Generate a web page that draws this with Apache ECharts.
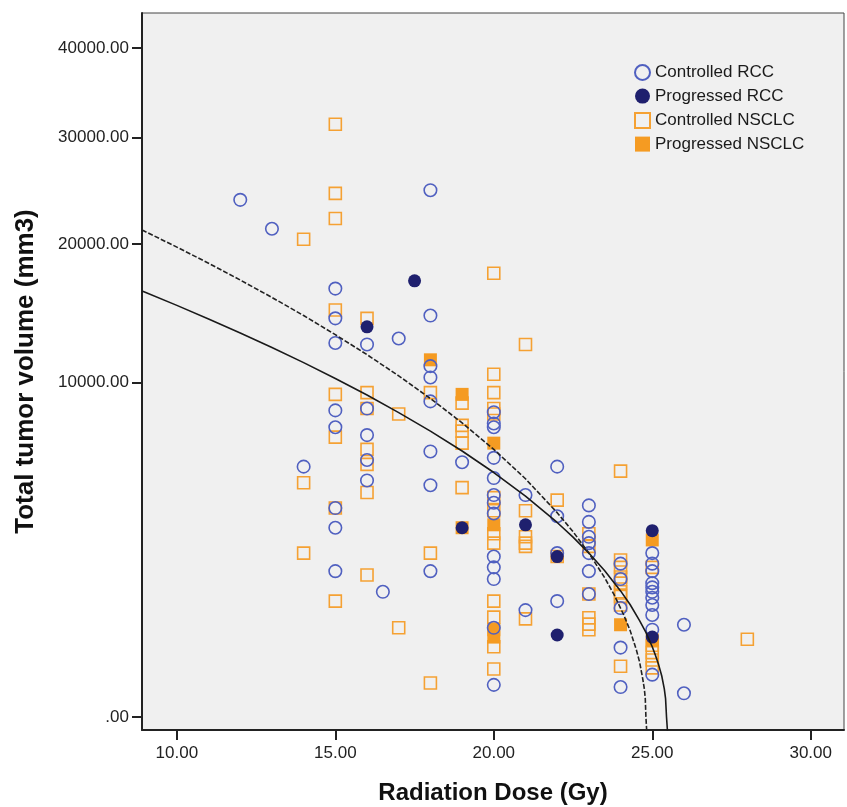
<!DOCTYPE html>
<html>
<head>
<meta charset="utf-8">
<title>Tumor volume vs radiation dose</title>
<script src="https://cdn.jsdelivr.net/npm/echarts@6/dist/echarts.min.js"></script>
<style>
  html, body { margin: 0; padding: 0; background: #fff; }
  #doseChart { width: 847px; height: 807px; }
</style>
</head>
<body>
<div id="doseChart"></div>
<script>
// points: [dose (Gy), total tumor volume (mm3)]
var controlledRCC = [
    [12, 23900], [13, 21300], [14, 5600],
    [15, 16400], [15, 14200], [15, 12500], [15, 8400], [15, 7500], [15, 3900], [15, 3200], [15, 1900],
    [16, 12400], [16, 8500], [16, 7100], [16, 5900], [16, 5000],
    [16.5, 1400], [17, 12800],
    [18, 24800], [18, 14400], [18, 11000], [18, 10300], [18, 8900], [18, 6300], [18, 4800], [18, 1900],
    [19, 5800],
    [20, 8300], [20, 7700], [20, 7500], [20, 6000], [20, 5100], [20, 4400], [20, 4100], [20, 3700],
    [20, 2300], [20, 2000], [20, 1700], [20, 710], [20, 92],
    [21, 4400], [21, 1020],
    [22, 5600], [22, 3600], [22, 2400], [22, 1200],
    [23, 4000], [23, 3400], [23, 2900], [23, 2700], [23, 2400], [23, 1900], [23, 1350],
    [24, 2100], [24, 1700], [24, 1060], [24, 430], [24, 80],
    [25, 2400], [25, 2100], [25, 1900], [25, 1600], [25, 1500], [25, 1400], [25, 1270], [25, 1120],
    [25, 930], [25, 680], [25, 160],
    [26, 760], [26, 50]
];
var progressedRCC = [
    [16, 13600], [17.5, 17000], [19, 3200], [21, 3300], [22, 2300], [22, 600], [25, 3100], [25, 570]
];
var controlledNSCLC = [
    [14, 20400], [14, 4900], [14, 2400],
    [15, 31400], [15, 24500], [15, 22200], [15, 14800], [15, 9300], [15, 7000], [15, 3900], [15, 1200],
    [16, 14200], [16, 9400], [16, 8500], [16, 6400], [16, 5700], [16, 4500], [16, 1800],
    [17, 8200], [17, 710],
    [18, 9400], [18, 2400], [18, 103],
    [19, 8800], [19, 7600], [19, 7300], [19, 6700], [19, 4700],
    [20, 17600], [20, 10500], [20, 9400], [20, 8500], [20, 8200], [20, 4300], [20, 3800], [20, 3000],
    [20, 2700], [20, 1200], [20, 890], [20, 440], [20, 206],
    [21, 12400], [21, 3800], [21, 2900], [21, 2700], [21, 2600], [21, 860],
    [22, 4200], [22, 2300],
    [23, 3000], [23, 2600], [23, 1350], [23, 880], [23, 770], [23, 680],
    [24, 5400], [24, 2200], [24, 2000], [24, 1750], [24, 1600], [24, 1400], [24, 1300], [24, 1120], [24, 230],
    [25, 2000], [25, 460], [25, 370], [25, 290], [25, 215],
    [28, 540]
];
var progressedNSCLC = [
    [18, 11400], [19, 9300], [19, 3200], [20, 6700], [20, 3300], [20, 680], [20, 570],
    [24, 760], [25, 2800], [25, 530]
];

// fitted curves
var solidDose = [8.9, 9, 10, 11, 12, 13, 14, 15, 16, 17, 18, 19, 20, 21, 22, 22.5, 23, 23.5, 24, 24.3, 24.6, 24.8, 25, 25.1, 25.2, 25.3, 25.38, 25.42, 25.45, 25.5];
var solidVol = [16220, 16120, 15140, 14160, 13180, 12200, 11220, 10240, 9260, 8280, 7300, 6320, 5340, 4360, 3380, 2890, 2400, 1910, 1420, 1130, 830, 640, 440, 340, 245, 150, 70, 30, 0, -50];
var dashedDose = [8.9, 9, 10, 11, 12, 13, 14, 15, 16, 17, 18, 19, 20, 21, 22, 22.5, 23, 23.5, 23.8, 24.1, 24.3, 24.5, 24.6, 24.7, 24.75, 24.78, 24.8, 24.85];
var dashedVol = [21200, 21060, 19730, 18400, 17060, 15730, 14400, 13060, 11730, 10400, 9060, 7730, 6400, 5070, 3730, 3070, 2400, 1730, 1330, 930, 670, 400, 270, 130, 70, 30, 0, -70];

var xTicks = [10, 15, 20, 25, 30];
var yTicks = [0, 10000, 20000, 30000, 40000];

var FONT = '"Liberation Sans", Arial, sans-serif';

// the y axis is on a square-root scale
function sq(v) {
    return v < 0 ? -Math.sqrt(-v) : Math.sqrt(v);
}
function toPoints(list) {
    return list.map(function (p) { return [p[0], sq(p[1])]; });
}
function toCurve(xs, ys) {
    return xs.map(function (x, i) { return [x, sq(ys[i])]; });
}

var doseChart = echarts.init(document.getElementById('doseChart'), null, { renderer: 'canvas' });

var legendText = { fontFamily: FONT, fontSize: 17, color: '#1a1a1a', lineHeight: 15 };

var option = {
    animation: false,
    backgroundColor: '#fff',
    grid: {
        left: 142, right: 3, top: 13, bottom: 77,
        outerBoundsMode: 'none',
        show: true,
        backgroundColor: '#f0f0f0',
        borderColor: '#444',
        borderWidth: 1
    },
    legend: [{
        orient: 'vertical',
        left: 634, top: 64,
        padding: 0,
        itemWidth: 15, itemHeight: 15, itemGap: 6.6,
        textStyle: legendText,
        data: ['Controlled RCC', 'Progressed RCC']
    }, {
        orient: 'vertical',
        left: 634, top: 112,
        padding: 0,
        itemWidth: 15, itemHeight: 15, itemGap: 6.6,
        textStyle: legendText,
        data: ['Controlled NSCLC', 'Progressed NSCLC']
    }],
    xAxis: {
        type: 'value',
        min: 8.9, max: 31.05,
        name: 'Radiation Dose (Gy)',
        nameLocation: 'middle',
        nameGap: 51,
        nameTextStyle: { fontFamily: FONT, fontSize: 24, fontWeight: 'bold', color: '#111' },
        axisLine: { show: true, onZero: false, lineStyle: { color: '#222', width: 2 } },
        axisTick: { show: true, length: 10, customValues: xTicks, lineStyle: { color: '#222', width: 2 } },
        axisLabel: {
            customValues: xTicks,
            margin: 15,
            fontFamily: FONT, fontSize: 17, color: '#222',
            formatter: function (v) { return v.toFixed(2); }
        },
        splitLine: { show: false }
    },
    yAxis: {
        type: 'value',
        min: -3.9, max: 210.45,
        name: 'Total tumor volume (mm3)',
        nameLocation: 'middle',
        nameRotate: 90,
        nameGap: 103,
        nameTextStyle: { fontFamily: FONT, fontSize: 26, fontWeight: 'bold', color: '#111' },
        axisLine: { show: true, onZero: false, lineStyle: { color: '#222', width: 2 } },
        axisTick: { show: true, length: 10, customValues: yTicks.map(Math.sqrt), lineStyle: { color: '#222', width: 2 } },
        axisLabel: {
            customValues: yTicks.map(Math.sqrt),
            margin: 13,
            fontFamily: FONT, fontSize: 17, color: '#222',
            formatter: function (v) {
                var r = Math.round(v * v / 100) * 100;
                return r === 0 ? '.00' : r.toFixed(2);
            }
        },
        splitLine: { show: false }
    },
    series: [{
        name: 'Controlled NSCLC',
        type: 'scatter',
        symbol: 'rect',
        symbolSize: 12,
        itemStyle: { color: 'rgba(0,0,0,0)', borderColor: '#f5a133', borderWidth: 1.6, opacity: 1 },
        data: toPoints(controlledNSCLC)
    }, {
        name: 'Progressed NSCLC',
        type: 'scatter',
        symbol: 'rect',
        symbolSize: 13,
        itemStyle: { color: '#f59b22', opacity: 1 },
        data: toPoints(progressedNSCLC)
    }, {
        name: 'Controlled RCC',
        type: 'scatter',
        symbol: 'circle',
        symbolSize: 12.5,
        itemStyle: { color: 'rgba(0,0,0,0)', borderColor: '#5060c0', borderWidth: 1.6, opacity: 1 },
        data: toPoints(controlledRCC)
    }, {
        name: 'Progressed RCC',
        type: 'scatter',
        symbol: 'circle',
        symbolSize: 13,
        itemStyle: { color: '#1f206e', opacity: 1 },
        data: toPoints(progressedRCC)
    }, {
        name: 'fit solid',
        type: 'line',
        showSymbol: false,
        z: 3,
        lineStyle: { color: '#1a1a1a', width: 1.6 },
        data: toCurve(solidDose, solidVol)
    }, {
        name: 'fit dashed',
        type: 'line',
        showSymbol: false,
        z: 3,
        lineStyle: { color: '#222', width: 1.6, type: [5, 2] },
        data: toCurve(dashedDose, dashedVol)
    }]
};

doseChart.setOption(option);
</script>
</body>
</html>
